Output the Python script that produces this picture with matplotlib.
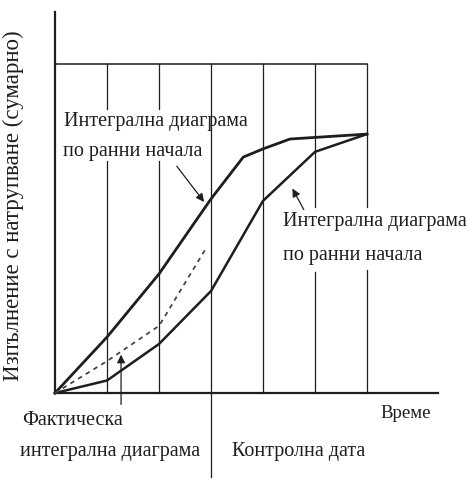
import matplotlib
matplotlib.use('Agg')
import matplotlib.pyplot as plt

plt.rcParams['font.family'] = ['Liberation Serif', 'DejaVu Serif']

# periods along the time axis and cumulative progress (%)
periods = [0, 1, 2, 3, 3.62, 4, 4.52, 6]
early_start = [0, 17.0, 36.2, 59.0, 71.7, 74.2, 77.2, 78.7]

late_periods = [0, 1, 2, 3, 4, 5, 6]
late_start = [0, 3.8, 14.9, 31.0, 58.4, 73.3, 78.7]

actual_periods = [0, 1, 2, 2.92]
actual = [0, 9.7, 20.4, 44.4]

control_date = 3
ylabel = 'Изпълнение с натрупване (сумарно)'
xlabel = 'Време'

ink = '#1e1e1e'

fig = plt.figure(figsize=(4.7, 4.81), dpi=100)
ax = fig.add_axes([0, 0, 1, 1])
ax.set_xlim(-1.058, 7.981)
ax.set_ylim(-26.44, 119.76)
ax.axis('off')

# axes
ax.plot([0, 0], [0, 115.8], color=ink, lw=1.6)
ax.plot([0, 7.37], [0, 0], color=ink, lw=1.6)
ax.plot([0, 6], [100, 100], color=ink, lw=1.1)

# vertical grid lines (with gaps where the labels sit)
grid_segments = {
    1: [(100, 86.3), (70.5, 0)],
    2: [(100, 86.3), (70.5, 0)],
    3: [(100, -25.5)],
    4: [(100, 0)],
    5: [(100, 56.5), (36.8, 0)],
    6: [(100, 56.5), (37.4, 0)],
}
for gx, segs in grid_segments.items():
    for y0, y1 in segs:
        ax.plot([gx, gx], [y0, y1], color=ink, lw=0.9)

# curves
ax.plot(periods, early_start, color=ink, lw=2.0)
ax.plot(late_periods, late_start, color=ink, lw=1.8)
ax.plot(actual_periods, actual, color='#444444', lw=1.3, ls=(0, (2.5, 2.5)))

fs = 14.5
# labels
ax.text(0.18, 82.7, 'Интегрална диаграма', fontsize=fs, va='center', ha='left', color=ink)
ax.text(0.15, 73.6, 'по ранни начала', fontsize=fs, va='center', ha='left', color=ink)
ax.annotate('', xy=(2.90, 57.4), xytext=(2.31, 69.6),
            arrowprops=dict(arrowstyle='-|>', color=ink, lw=0.9, mutation_scale=12))

ax.text(4.38, 52.3, 'Интегрална диаграма', fontsize=fs, va='center', ha='left', color=ink)
ax.text(4.38, 42.2, 'по ранни начала', fontsize=fs, va='center', ha='left', color=ink)
ax.annotate('', xy=(4.54, 62.9), xytext=(4.81, 55.0),
            arrowprops=dict(arrowstyle='-|>', color=ink, lw=0.9, mutation_scale=12))

ax.annotate('', xy=(1.27, 12.5), xytext=(1.27, -4.3),
            arrowprops=dict(arrowstyle='-|>', color=ink, lw=0.9, mutation_scale=12))
ax.text(-0.63, -7.9, 'Фактическа', fontsize=fs, va='center', ha='left', color=ink)
ax.text(-0.67, -17.6, 'интегрална диаграма', fontsize=fs, va='center', ha='left', color=ink)

ax.text(3.40, -17.6, 'Контролна дата', fontsize=fs, va='center', ha='left', color=ink)
ax.text(6.25, -5.8, xlabel, fontsize=13.5, va='center', ha='left', color=ink)

ax.text(-0.80, 57.2, ylabel, fontsize=16.5, rotation=90, va='center', ha='center', color=ink)

fig.savefig('out.png', dpi=100)
